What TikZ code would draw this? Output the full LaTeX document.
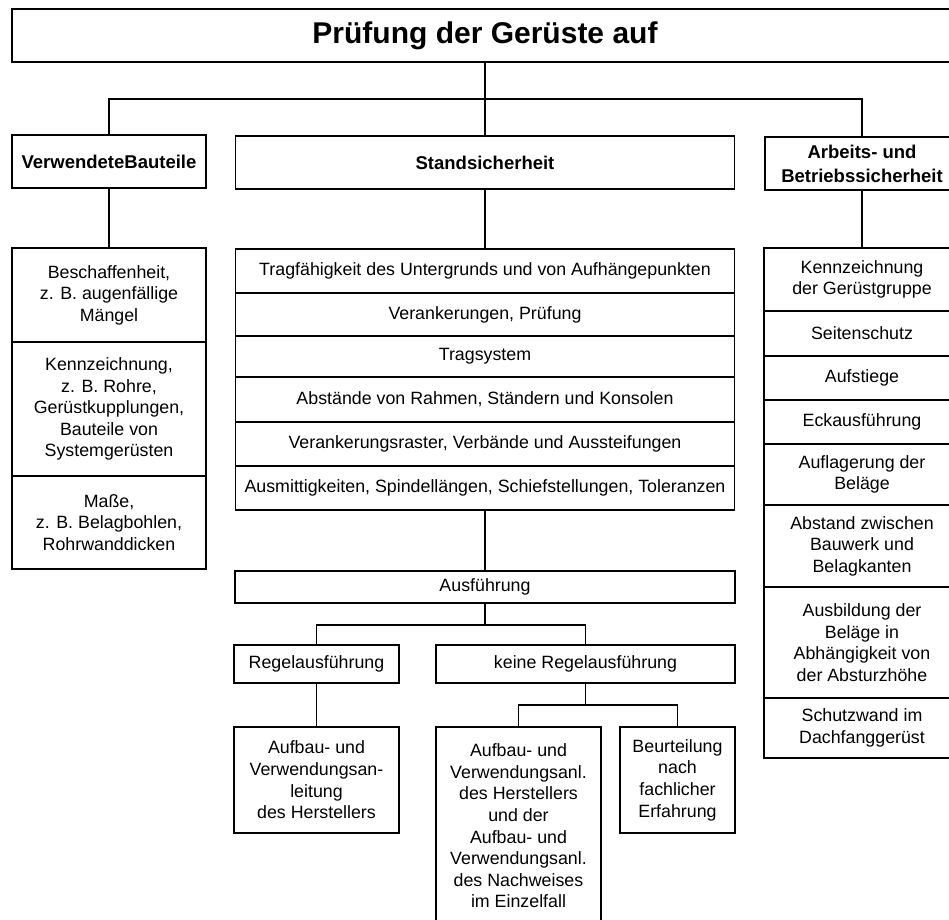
\documentclass[tikz,border=0pt]{standalone}
\usepackage{fontspec}
\setmainfont{Liberation Sans}
\begin{document}
\begin{tikzpicture}[x=1pt,y=-1pt,
  box/.style={draw, line width=1.5pt, rectangle, align=center, inner sep=0pt,
    font=\fontsize{17.8}{21.6}\selectfont},
  hbox/.style={box, font=\bfseries\fontsize{18.5}{24}\selectfont},
  conn/.style={line width=1.1pt}]
\clip (0,0) rectangle (949,919);
\fill[white] (0,0) rectangle (949,919);

% title
\node[box, minimum width=946pt, minimum height=53pt, font=\bfseries\fontsize{30}{36}\selectfont] (title) at (485,35.5) {Prüfung der Gerüste auf};

% level 2
\node[hbox, minimum width=194pt, minimum height=53pt] (verw) at (109,161.5) {VerwendeteBauteile};
\node[hbox, minimum width=499pt, minimum height=53pt] (stand) at (485,162.5) {Standsicherheit};
\node[hbox, minimum width=194pt, minimum height=53pt] (arb) at (862,163.5) {Arbeits- und\\Betriebssicherheit};

% left stack
\node[box, minimum width=194pt, minimum height=94pt] (l1) at (109,295) {Beschaffenheit,\\z. B. augenfällige\\Mängel};
\node[box, minimum width=194pt, minimum height=134pt] (l2) at (109,409) {Kennzeichnung,\\z. B. Rohre,\\Gerüstkupplungen,\\Bauteile von\\Systemgerüsten};
\node[box, minimum width=194pt, minimum height=93pt] (l3) at (109,522.5) {Maße,\\z. B. Belagbohlen,\\Rohrwanddicken};

% middle stack
\node[box, minimum width=499pt, minimum height=44pt] (m1) at (485,271) {Tragfähigkeit des Untergrunds und von Aufhängepunkten};
\node[box, minimum width=499pt, minimum height=43pt] (m2) at (485,314.5) {Verankerungen, Prüfung};
\node[box, minimum width=499pt, minimum height=41pt] (m3) at (485,356.5) {Tragsystem};
\node[box, minimum width=499pt, minimum height=45pt] (m4) at (485,399.5) {Abstände von Rahmen, Ständern und Konsolen};
\node[box, minimum width=499pt, minimum height=44pt] (m5) at (485,444) {Verankerungsraster, Verbände und Aussteifungen};
\node[box, minimum width=499pt, minimum height=44pt] (m6) at (485,488) {Ausmittigkeiten, Spindellängen, Schiefstellungen, Toleranzen};

% right stack
\node[box, minimum width=196pt, minimum height=63pt] (r1) at (862,279.5) {Kennzeichnung\\der Gerüstgruppe};
\node[box, minimum width=196pt, minimum height=45pt] (r2) at (862,333.5) {Seitenschutz};
\node[box, minimum width=196pt, minimum height=44pt] (r3) at (862,378) {Aufstiege};
\node[box, minimum width=196pt, minimum height=44pt] (r4) at (862,422) {Eckausführung};
\node[box, minimum width=196pt, minimum height=61pt] (r5) at (862,474.5) {Auflagerung der\\Beläge};
\node[box, minimum width=196pt, minimum height=82pt] (r6) at (862,546) {Abstand zwischen\\Bauwerk und\\Belagkanten};
\node[box, minimum width=196pt, minimum height=111pt] (r7) at (862,642.5) {Ausbildung der\\Beläge in\\Abhängigkeit von\\der Absturzhöhe};
\node[box, minimum width=196pt, minimum height=60pt] (r8) at (862,728) {Schutzwand im\\Dachfanggerüst};

% execution branch
\node[box, minimum width=500pt, minimum height=32pt] (ausf) at (485,587) {Ausführung};
\node[box, minimum width=165pt, minimum height=38pt] (regel) at (316.5,664) {Regelausführung};
\node[box, minimum width=299pt, minimum height=38pt] (keine) at (585.5,664) {keine Regelausführung};
\node[box, minimum width=165pt, minimum height=106pt] (auf1) at (316.5,780) {Aufbau- und\\Verwendungsan-\\leitung\\des Herstellers};
\node[box, minimum width=165pt, minimum height=198pt] (auf2) at (518.5,826) {Aufbau- und\\Verwendungsanl.\\des Herstellers\\und der\\Aufbau- und\\Verwendungsanl.\\des Nachweises\\im Einzelfall};
\node[box, minimum width=115pt, minimum height=106pt] (beurt) at (677.5,780) {Beurteilung\\nach\\fachlicher\\Erfahrung};

% connectors
\coordinate (bar) at (485,99);
\coordinate (bar2) at (485,625);
\coordinate (bar3) at (586,705);
\draw[conn] (title.south) -- (stand.north);
\draw[conn] (verw.north) -- (verw.north |- bar) -- (arb.north |- bar) -- (arb.north);
\draw[conn] (verw.south) -- (l1.north);
\draw[conn] (stand.south) -- (m1.north);
\draw[conn] (arb.south) -- (r1.north);
\draw[conn] (m6.south) -- (ausf.north);
\draw[conn] (ausf.south) -- (ausf.south |- bar2);
\draw[conn] (regel.north) -- (regel.north |- bar2) -- (keine.north |- bar2) -- (keine.north);
\draw[conn] (regel.south) -- (auf1.north);
\draw[conn] (keine.south) -- (keine.south |- bar3);
\draw[conn] (auf2.north) -- (auf2.north |- bar3) -- (beurt.north |- bar3) -- (beurt.north);
\end{tikzpicture}
\end{document}
